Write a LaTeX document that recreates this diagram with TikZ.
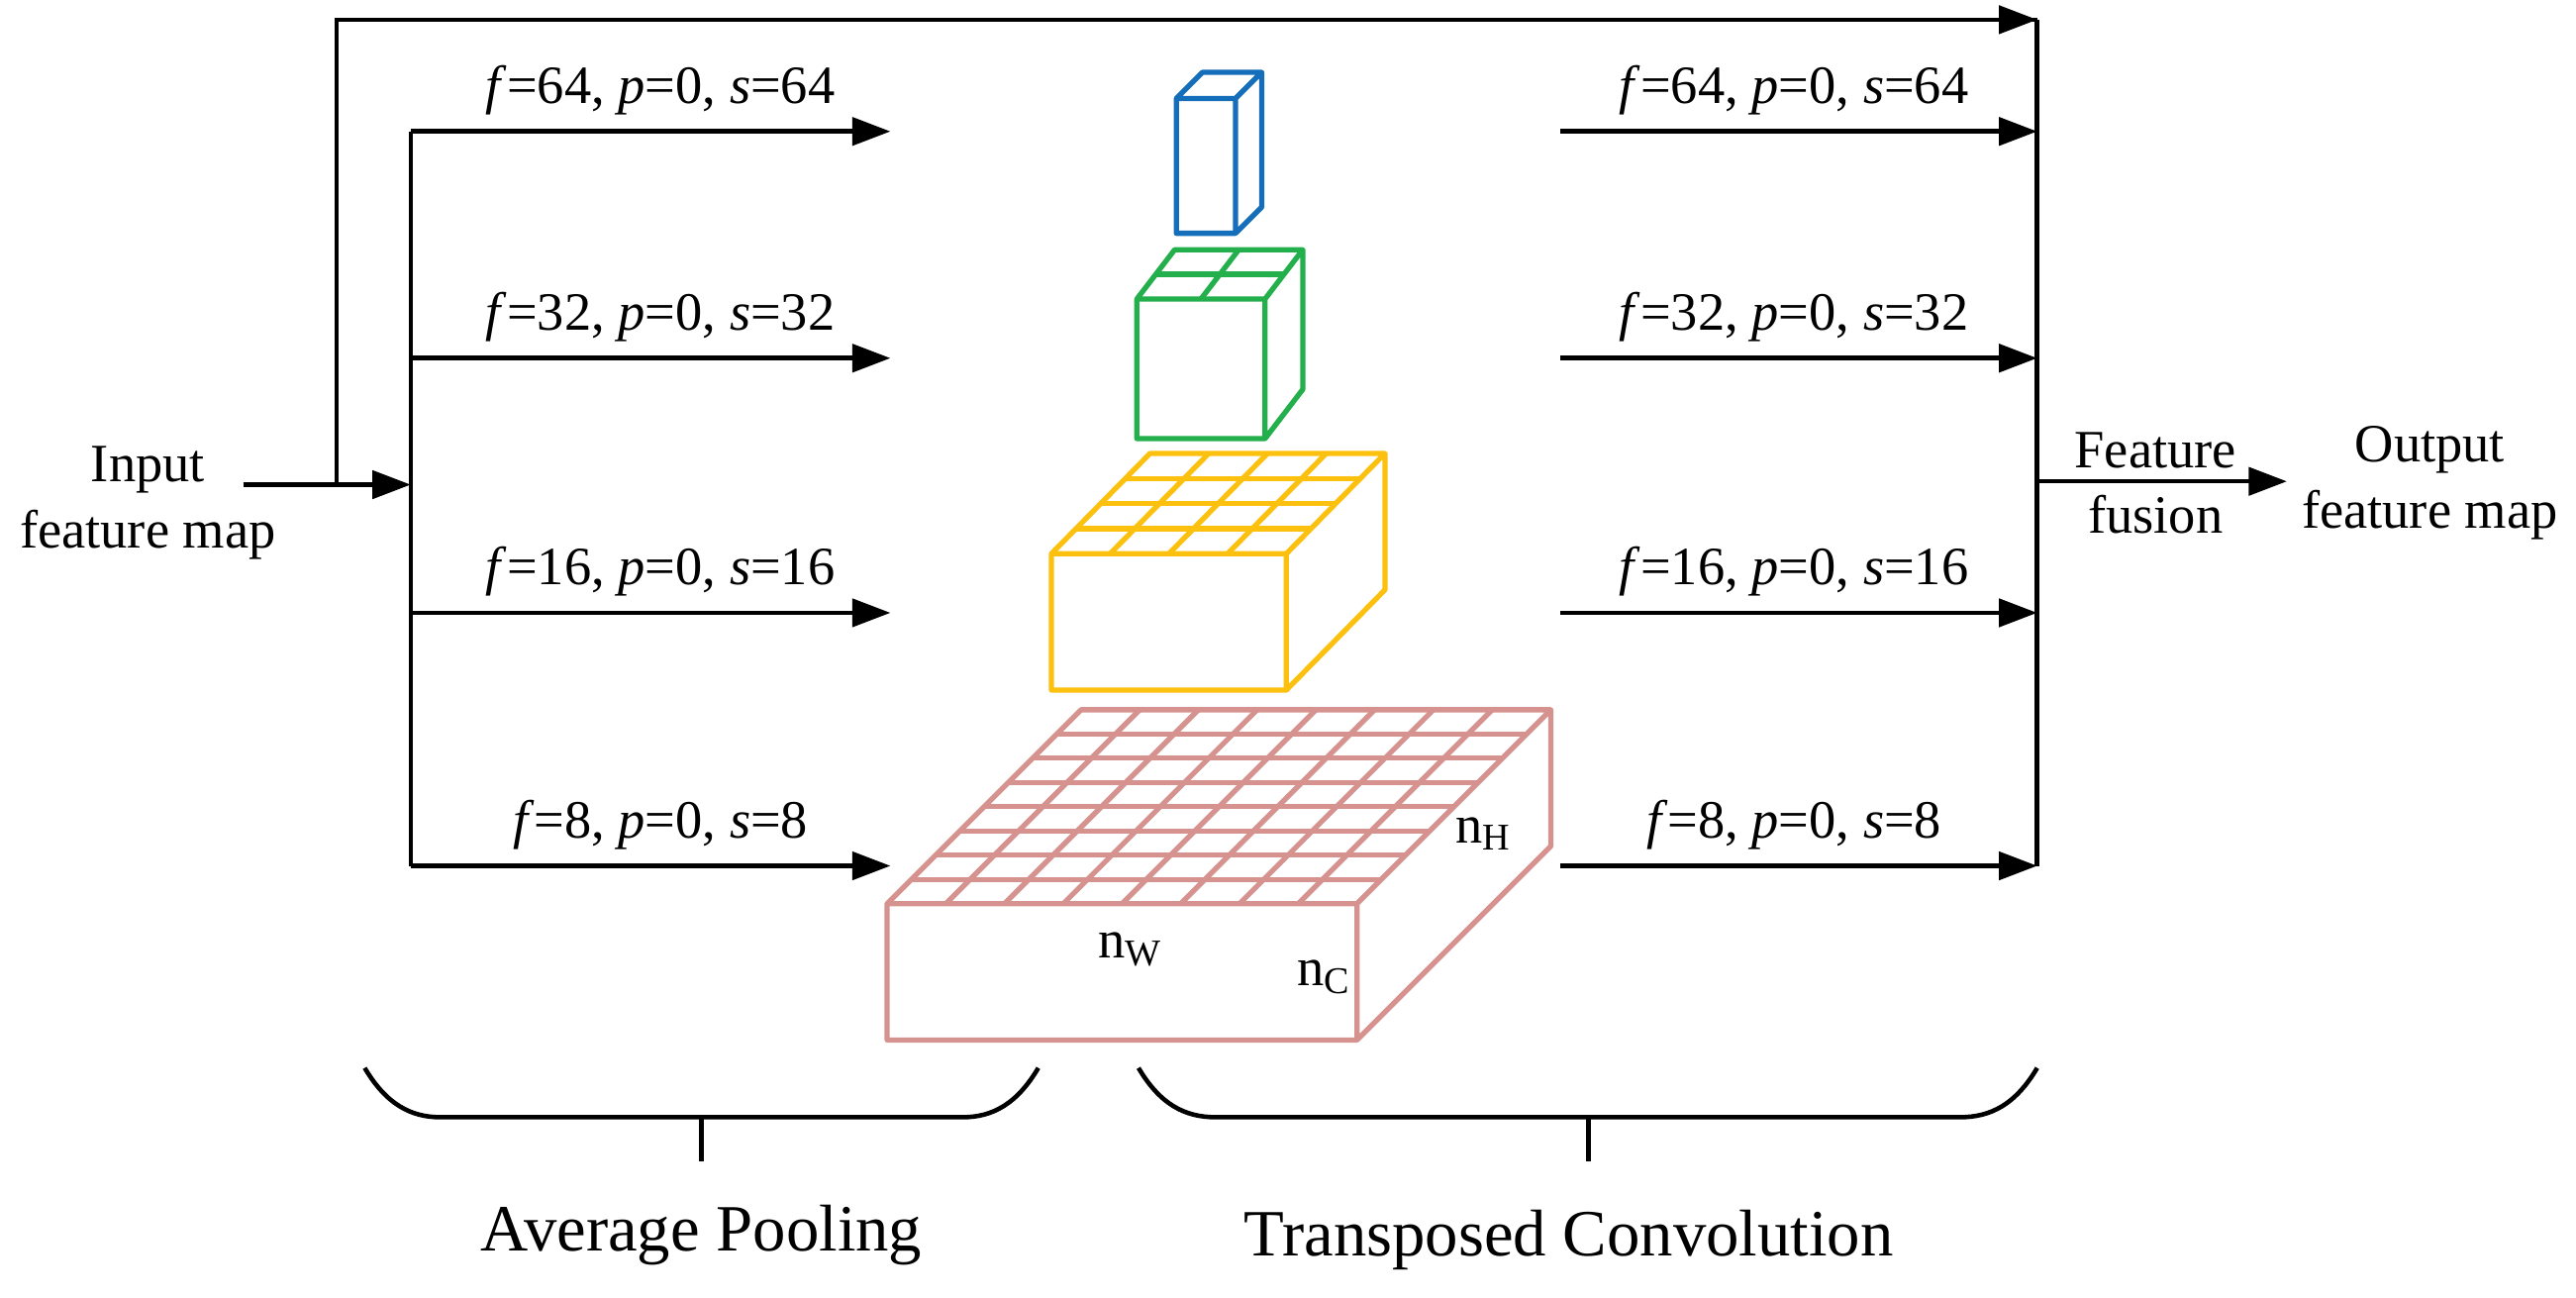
\documentclass[tikz,border=0pt]{standalone}
\usepackage{fontspec}
\setmainfont{Liberation Serif}
\usetikzlibrary{arrows.meta}
\definecolor{cblue}{RGB}{20,110,185}
\definecolor{cgreen}{RGB}{35,175,75}
\definecolor{cyellow}{RGB}{252,192,15}
\definecolor{cpink}{RGB}{214,146,142}
\newcommand{\mycuboid}[8]{% x1 y1 x2 y2 dx dy n color
  \draw[#8,line width=1.5pt,line join=round] (#1,#2) rectangle (#3,#4)
    (#1,#2) -- ++(#5,-#6) -- ++(#3-#1,0) -- (#3,#2) (#3+#5,#2-#6) -- (#3+#5,#4-#6) -- (#3,#4);
  \ifnum#7>1
  \foreach \i in {1,...,\numexpr#7-1\relax}{
    \draw[#8,line width=1.5pt] ({#1+\i*(#3-#1)/#7},#2) -- ++(#5,-#6);
    \draw[#8,line width=1.5pt] ({#1+\i*#5/#7},{#2-\i*#6/#7}) -- ++(#3-#1,0);
  }\fi
}
\begin{document}
\begin{tikzpicture}[x=0.0166cm,y=-0.0166cm,
  arr/.style={line width=1.3pt,-{Triangle[length=11pt,width=8pt]}},
  ln/.style={line width=1.3pt},
  lab/.style={font=\fontsize{15.5}{17}\selectfont,inner sep=0pt},
  big/.style={font=\fontsize{19}{21}\selectfont,inner sep=0pt},
  txt/.style={font=\fontsize{15.5}{19}\selectfont,align=center,inner sep=0pt}]
\useasboundingbox (0,0) rectangle (1568,789.6);
% text nodes
\node[txt] (in) at (90,306) {Input\\feature map};
\node[txt] (ff) at (1312,294) {Feature\\fusion};
\node[txt] (out) at (1479,294) {Output\\feature map};
% coordinates
\coordinate (s0) at (148,295);
\coordinate (j) at (205,295);
\coordinate (b) at (250,295);
\coordinate (t) at (205,12);
\coordinate (tr) at (1240,12);
\coordinate (rv) at (1240,293);
\coordinate (fa) at (1392,293);
\draw[ln] (s0) -- (j) -- (t) -- (tr);
\draw[arr] (j) -- (b);
\draw[arr] (t) -- (tr);
\draw[ln] (250,80) -- (250,527);
\draw[ln] (1240,12) -- (1240,527);
\draw[arr] (rv) -- (fa);
\foreach \y/\f/\s [count=\k] in {80/64/64,218/32/32,373/16/16,527/8/8}{
  \coordinate (l\k) at (250,\y); \coordinate (le\k) at (542,\y);
  \coordinate (r\k) at (950,\y); \coordinate (re\k) at (1240,\y);
  \draw[arr] (l\k) -- (le\k);
  \draw[arr] (r\k) -- (re\k);
  \node[lab,anchor=base] (al\k) at (402,\y-17) {\textit{f}=\f, \textit{p}=0, \textit{s}=\s};
  \node[lab,anchor=base] (ar\k) at (1092,\y-17) {\textit{f}=\f, \textit{p}=0, \textit{s}=\s};
}
% cuboids
\mycuboid{716}{60}{752}{142}{16}{16}{1}{cblue}
\mycuboid{692}{182}{770}{267}{23}{30}{2}{cgreen}
\mycuboid{640}{337}{783}{420}{60}{61}{4}{cyellow}
\mycuboid{540}{550}{826}{633}{118}{118}{8}{cpink}
\node[lab,anchor=base] (nw) at (688,583) {n\textsubscript{W}};
\node[lab,anchor=base] (nc) at (806,600) {n\textsubscript{C}};
\node[lab,anchor=base] (nh) at (903,513) {n\textsubscript{H}};
% braces
\draw[ln] (222,650) .. controls (235,672) and (250,680) .. (268,680) -- (586,680) .. controls (604,680) and (619,672) .. (632,650);
\draw[ln] (427,680) -- (427,707);
\draw[ln] (693,650) .. controls (706,672) and (721,680) .. (740,680) -- (1193,680) .. controls (1212,680) and (1227,672) .. (1240,650);
\draw[ln] (967,680) -- (967,707);
\node[big] (ap) at (427,752) {Average Pooling};
\node[big] (tc) at (955,755) {Transposed Convolution};
\end{tikzpicture}
\end{document}
